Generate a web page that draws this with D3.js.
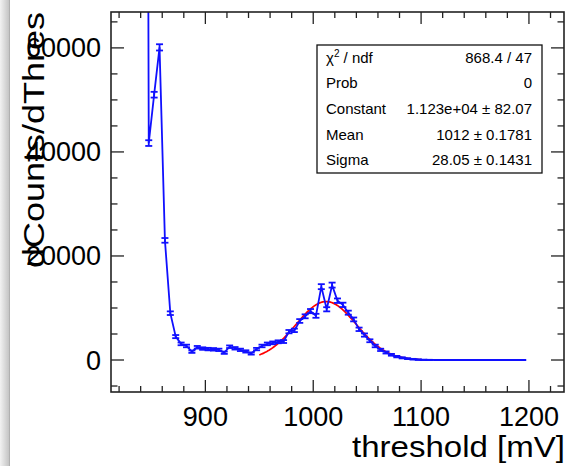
<!DOCTYPE html>
<html>
<head>
<meta charset="utf-8">
<script src="https://cdn.jsdelivr.net/npm/d3@7"></script>
<style>
  body { margin: 0; background: #fff; }
  text { font-family: "Liberation Sans", Arial, sans-serif; }
</style>
</head>
<body>
<div id="chart-container"></div>
<script>
// Bin centres (threshold, mV) and counts
const thresholds = [842.5, 847.5, 852.5, 857.5, 862.5, 867.5, 872.5, 877.5, 882.5, 887.5,
  892.5, 897.5, 902.5, 907.5, 912.5, 917.5, 922.5, 927.5, 932.5, 937.5,
  942.5, 947.5, 952.5, 957.5, 962.5, 967.5, 972.5, 977.5, 982.5, 987.5,
  992.5, 997.5, 1002.5, 1007.5, 1012.5, 1017.5, 1022.5, 1027.5, 1032.5, 1037.5,
  1042.5, 1047.5, 1052.5, 1057.5, 1062.5, 1067.5, 1072.5, 1077.5, 1082.5, 1087.5,
  1092.5, 1097.5, 1102.5, 1107.5, 1112.5, 1117.5, 1122.5, 1127.5, 1132.5, 1137.5,
  1142.5, 1147.5, 1152.5, 1157.5, 1162.5, 1167.5, 1172.5, 1177.5, 1182.5, 1187.5,
  1192.5, 1197.5];
const counts = [400000, 41700, 51000, 60100, 23000, 9000, 4500, 3100, 2700, 1600,
  2450, 2200, 2100, 2050, 1950, 1400, 2550, 2250, 1950, 1650,
  1250, 2100, 2700, 3100, 3300, 3500, 3550, 5450, 5700, 7500,
  8400, 9400, 8500, 14100, 9750, 14400, 11400, 10600, 9100, 7800,
  5900, 4800, 3700, 2700, 1950, 1450, 1000, 650, 420, 260,
  150, 80, 40, 20, 0, 0, 0, 0, 0, 0,
  0, 0, 0, 0, 0, 0, 0, 0, 0, 0,
  0, 0];
const errors = [1500, 550, 550, 600, 450, 350, 300, 260, 250, 230,
  250, 240, 240, 240, 230, 220, 250, 240, 230, 220,
  210, 230, 250, 260, 270, 280, 280, 320, 330, 360,
  380, 400, 380, 480, 400, 480, 430, 420, 390, 370,
  330, 310, 280, 250, 220, 200, 170, 140, 110, 90,
  70, 50, 30, 20, 0, 0, 0, 0, 0, 0,
  0, 0, 0, 0, 0, 0, 0, 0, 0, 0,
  0, 0];

// Gaussian fit parameters (from the stats box) and fit range
const fitConstant = 11230;
const fitMean = 1012;
const fitSigma = 28.05;
const fitRange = [950, 1100];

// Stats box rows
const statLabels = ["χ2 / ndf", "Prob", "Constant", "Mean", "Sigma"];
const statValues = ["868.4 / 47", "0", "1.123e+04 ± 82.07", "1012 ± 0.1781", "28.05 ± 0.1431"];

const xTicks = [900, 1000, 1100, 1200];
const yTicks = [0, 20000, 40000, 60000];

const W = 567, H = 466;
const frame = { left: 111, top: 12, right: 564, bottom: 392 };

const x = d3.scaleLinear().domain([812.5, 1232.5]).range([frame.left, frame.right]);
const y = d3.scaleLinear().domain([-6150, 66900]).range([frame.bottom, frame.top]);

const svg = d3.select("#chart-container")
  .append("svg")
  .attr("width", W)
  .attr("height", H);

const defs = svg.append("defs");
const shade = defs.append("linearGradient").attr("id", "shade")
  .attr("x1", "0%").attr("x2", "100%").attr("y1", "0%").attr("y2", "0%");
shade.append("stop").attr("offset", "0%").attr("stop-color", "#f2f2f2");
shade.append("stop").attr("offset", "100%").attr("stop-color", "#c4c4c4");

defs.append("clipPath").attr("id", "plot-clip")
  .append("rect")
  .attr("x", frame.left).attr("y", frame.top)
  .attr("width", frame.right - frame.left)
  .attr("height", frame.bottom - frame.top);

// window shadow strip on the left
svg.append("rect").attr("x", 0).attr("y", 0).attr("width", 9).attr("height", H)
  .attr("fill", "url(#shade)");
svg.append("line").attr("x1", 9.5).attr("x2", 9.5).attr("y1", 0).attr("y2", H)
  .attr("stroke", "#b0b0b0").attr("stroke-width", 1);

// Ticks on all four sides, like ROOT
const axisStroke = "#222";
const xMinor = d3.range(820, 1232, 20);
const yMinor = d3.range(-5000, 66000, 5000);

const ticks = svg.append("g").attr("stroke", axisStroke).attr("stroke-width", 1.3);
xMinor.forEach(v => {
  const len = xTicks.includes(v) ? 12 : 6;
  ticks.append("line").attr("x1", x(v)).attr("x2", x(v))
    .attr("y1", frame.bottom).attr("y2", frame.bottom - len);
  ticks.append("line").attr("x1", x(v)).attr("x2", x(v))
    .attr("y1", frame.top).attr("y2", frame.top + len);
});
yMinor.forEach(v => {
  const len = yTicks.includes(v) ? 13 : 6.5;
  ticks.append("line").attr("y1", y(v)).attr("y2", y(v))
    .attr("x1", frame.left).attr("x2", frame.left + len);
  ticks.append("line").attr("y1", y(v)).attr("y2", y(v))
    .attr("x1", frame.right).attr("x2", frame.right - len);
});

// tick labels
svg.append("g").selectAll("text").data(xTicks).join("text")
  .attr("x", d => x(d)).attr("y", 426)
  .attr("text-anchor", "middle")
  .attr("font-size", 27)
  .text(d => d);

svg.append("g").selectAll("text").data(yTicks).join("text")
  .attr("x", 101).attr("y", d => y(d) + 9.5)
  .attr("text-anchor", "end")
  .attr("font-size", 27)
  .text(d => d);

// axis titles (stretched along the text, as in the picture)
svg.append("text")
  .attr("x", 565).attr("y", 457)
  .attr("text-anchor", "end")
  .attr("font-size", 29)
  .attr("textLength", 213)
  .attr("lengthAdjust", "spacingAndGlyphs")
  .text("threshold [mV]");

svg.append("text")
  .attr("transform", `translate(44,${frame.top}) rotate(-90)`)
  .attr("text-anchor", "end")
  .attr("font-size", 30)
  .attr("textLength", 256)
  .attr("lengthAdjust", "spacingAndGlyphs")
  .text("dCounts/dThres");

// Data
const plot = svg.append("g").attr("clip-path", "url(#plot-clip)");
const data = thresholds.map((t, i) => ({ t, c: counts[i], e: errors[i] }));

const line = d3.line().x(d => x(d.t)).y(d => y(d.c));

// Gaussian fit curve
const fitData = d3.range(fitRange[0], fitRange[1] + 0.5, 1).map(t => ({
  t, c: fitConstant * Math.exp(-0.5 * Math.pow((t - fitMean) / fitSigma, 2))
}));
plot.append("path").datum(fitData)
  .attr("fill", "none").attr("stroke", "#ff0000").attr("stroke-width", 1.7)
  .attr("d", line);

plot.append("path").datum(data)
  .attr("fill", "none").attr("stroke", "#1010ff").attr("stroke-width", 1.8)
  .attr("d", line);

const bars = plot.append("g").attr("stroke", "#1010ff").attr("stroke-width", 1.8);
data.filter(d => d.e > 0).forEach(d => {
  const cx = x(d.t), y0 = y(d.c - d.e), y1 = y(d.c + d.e);
  bars.append("line").attr("x1", cx).attr("x2", cx).attr("y1", y0).attr("y2", y1);
  bars.append("line").attr("x1", cx - 3.5).attr("x2", cx + 3.5).attr("y1", y0).attr("y2", y0);
  bars.append("line").attr("x1", cx - 3.5).attr("x2", cx + 3.5).attr("y1", y1).attr("y2", y1);
});

// Frame
svg.append("rect")
  .attr("x", frame.left).attr("y", frame.top)
  .attr("width", frame.right - frame.left)
  .attr("height", frame.bottom - frame.top)
  .attr("fill", "none").attr("stroke", axisStroke).attr("stroke-width", 1.6);

// Stats box
const box = { x: 317, y: 45, w: 225, h: 128 };
const stats = svg.append("g");
stats.append("rect")
  .attr("x", box.x).attr("y", box.y).attr("width", box.w).attr("height", box.h)
  .attr("fill", "#fff").attr("stroke", "#111").attr("stroke-width", 1.3);
const rowH = box.h / statLabels.length;
statLabels.forEach((lab, i) => {
  const by = box.y + rowH * (i + 0.5) + 5;
  const t = stats.append("text").attr("x", box.x + 9).attr("y", by).attr("font-size", 15);
  if (i === 0) {
    t.append("tspan").text("χ");
    t.append("tspan").attr("font-size", 10).attr("dy", -6).text("2");
    t.append("tspan").attr("dy", 6).text(" / ndf");
  } else {
    t.text(lab);
  }
  stats.append("text").attr("x", box.x + box.w - 10).attr("y", by)
    .attr("text-anchor", "end").attr("font-size", 15)
    .text(statValues[i]);
});
</script>
</body>
</html>
